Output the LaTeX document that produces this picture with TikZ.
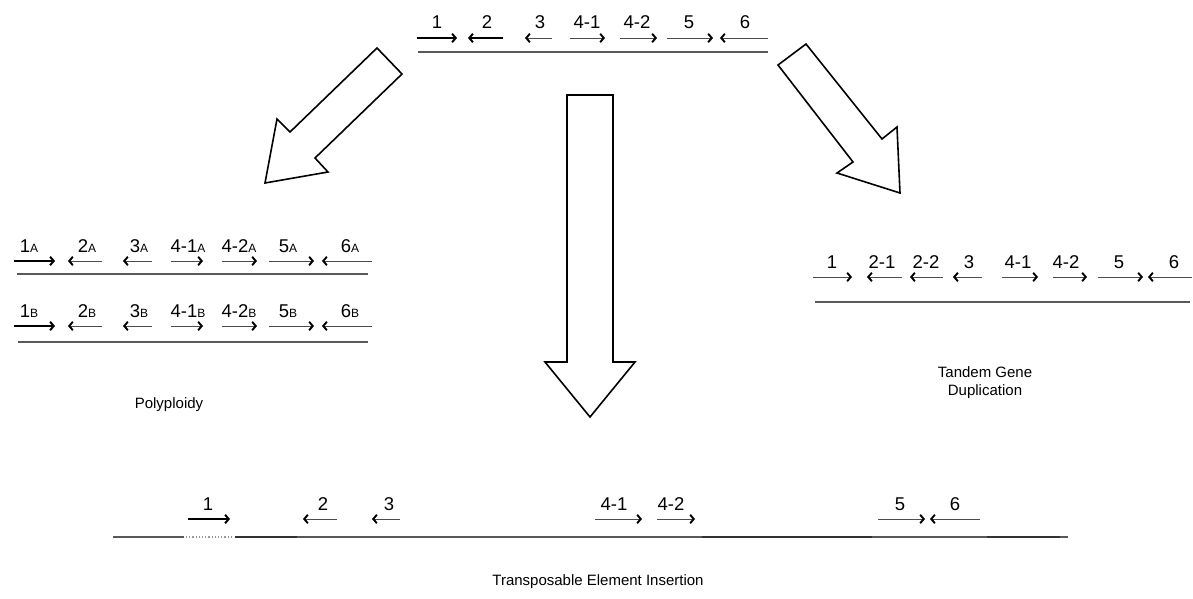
\documentclass[tikz,border=0pt]{standalone}
\usepackage{fontspec}
\setmainfont{Liberation Sans}
\usetikzlibrary{arrows.meta}
\newcommand\gnarr[7]{%
  \coordinate (#7s) at ({#2},{#4});
  \coordinate (#7e) at ({#3},{#4});
  \draw[#1] (#7s) -- (#7e);
  \node[lbl] (#7) at ({#5},{#4-9}) {#6};}
\newcommand\sbA{{\fontsize{12}{12}\selectfont A}}
\newcommand\sbB{{\fontsize{12}{12}\selectfont B}}
\begin{document}
\begin{tikzpicture}[x=1pt,y=-1pt,
  fwd/.style={line width=0.9pt, black!70, -{Straight Barb[length=3.6pt,width=8.5pt,line width=1.9pt,color=black]}},
  bold/.style={line width=2pt, black, -{Straight Barb[length=3.6pt,width=8.5pt,line width=2pt]}},
  genome/.style={line width=1.2pt, black!65},
  thickseg/.style={line width=1.8pt, black!80},
  faintseg/.style={line width=1.2pt, black!40, dotted},
  lbl/.style={anchor=base, inner sep=0pt, font=\fontsize{18.5}{20}\selectfont},
  caption/.style={align=center, inner sep=0pt, font=\fontsize{15}{18}\selectfont},
  blockarrow/.style={draw=black, line width=1.6pt, fill=white, line join=miter}]
\useasboundingbox (0,0) rectangle (1193,599);

% ---------- top (ancestral) genome ----------
\coordinate (tl0) at (418,52); \coordinate (tl1) at (768,52);
\draw[genome] (tl0) -- (tl1);
\gnarr{bold}{417}{457}{38}{437}{1}{ta}
\gnarr{bold}{503}{468}{38}{487}{2}{tb}
\gnarr{fwd}{552}{525}{38}{540}{3}{tc}
\gnarr{fwd}{570}{605}{38}{587}{4-1}{td}
\gnarr{fwd}{620}{657}{38}{637}{4-2}{te}
\gnarr{fwd}{667}{713}{38}{689}{5}{tf}
\gnarr{fwd}{768}{720}{38}{745}{6}{tg}

% ---------- block arrows ----------
\draw[blockarrow] (377,48) -- (402,74) -- (315,158) -- (328,172) -- (265,183) -- (277,119) -- (290,132) -- cycle;
\draw[blockarrow] (778,65) -- (806,44) -- (882,139) -- (897,127) -- (900,193) -- (837,173) -- (853,162) -- cycle;
\draw[blockarrow] (567,95) -- (613,95) -- (613,362) -- (635,362) -- (590,417) -- (545,362) -- (567,362) -- cycle;

% ---------- polyploidy: row A ----------
\coordinate (al0) at (17,274); \coordinate (al1) at (368,274);
\draw[genome] (al0) -- (al1);
\gnarr{bold}{14}{55}{261}{29}{1\sbA}{aa}
\gnarr{fwd}{102}{68}{261}{87}{2\sbA}{ab}
\gnarr{fwd}{152}{123}{261}{139}{3\sbA}{ac}
\gnarr{fwd}{171}{203}{261}{188}{4-1\sbA}{ad}
\gnarr{fwd}{222}{257}{261}{239}{4-2\sbA}{ae}
\gnarr{fwd}{269}{314}{261}{288}{5\sbA}{af}
\gnarr{fwd}{372}{322}{261}{350}{6\sbA}{ag}

% ---------- polyploidy: row B ----------
\coordinate (bl0) at (18,342); \coordinate (bl1) at (368,342);
\draw[genome] (bl0) -- (bl1);
\gnarr{bold}{14}{55}{326}{29}{1\sbB}{ba}
\gnarr{fwd}{102}{68}{326}{87}{2\sbB}{bb}
\gnarr{fwd}{152}{123}{326}{139}{3\sbB}{bc}
\gnarr{fwd}{171}{203}{326}{188}{4-1\sbB}{bd}
\gnarr{fwd}{222}{257}{326}{239}{4-2\sbB}{be}
\gnarr{fwd}{269}{314}{326}{288}{5\sbB}{bf}
\gnarr{fwd}{372}{322}{326}{350}{6\sbB}{bg}

\node[caption] (poly) at (169,405) {Polyploidy};

% ---------- tandem duplication ----------
\coordinate (rl0) at (815,302); \coordinate (rl1) at (1190,302);
\draw[genome] (rl0) -- (rl1);
\gnarr{fwd}{813}{852}{277}{832}{1}{ra}
\gnarr{fwd}{902}{867}{277}{882}{2-1}{rb}
\gnarr{fwd}{943}{910}{277}{926}{2-2}{rc}
\gnarr{fwd}{982}{953}{277}{969}{3}{rd}
\gnarr{fwd}{1002}{1038}{277}{1018}{4-1}{re}
\gnarr{fwd}{1053}{1087}{277}{1066}{4-2}{rf}
\gnarr{fwd}{1098}{1143}{277}{1119}{5}{rg}
\gnarr{fwd}{1192}{1148}{277}{1174}{6}{rh}

\node[caption] (tandem) at (985,383) {Tandem Gene\\Duplication};

% ---------- transposable element insertion ----------
\coordinate (g0) at (113,537); \coordinate (g1) at (184,537);
\coordinate (g2) at (186,537); \coordinate (g3) at (233,537);
\coordinate (g4) at (235,537); \coordinate (g5) at (1068,537);
\draw[genome] (g0) -- (g1);
\draw[faintseg] (g2) -- (g3);
\draw[genome] (g4) -- (g5);
\coordinate (h0) at (235,537); \coordinate (h1) at (297,537);
\coordinate (h2) at (702,537); \coordinate (h3) at (872,537);
\coordinate (h4) at (987,537); \coordinate (h5) at (1060,537);
\draw[thickseg] (h0) -- (h1);
\draw[thickseg] (h2) -- (h3);
\draw[thickseg] (h4) -- (h5);
\gnarr{bold}{188}{230}{519}{208}{1}{ea}
\gnarr{fwd}{337}{303}{519}{323}{2}{eb}
\gnarr{fwd}{400}{372}{519}{389}{3}{ec}
\gnarr{fwd}{595}{642}{519}{614}{4-1}{ed}
\gnarr{fwd}{657}{695}{519}{671}{4-2}{ee}
\gnarr{fwd}{878}{925}{519}{900}{5}{ef}
\gnarr{fwd}{980}{930}{519}{955}{6}{eg}

\node[caption] (tei) at (598,582) {Transposable Element Insertion};
\end{tikzpicture}
\end{document}
